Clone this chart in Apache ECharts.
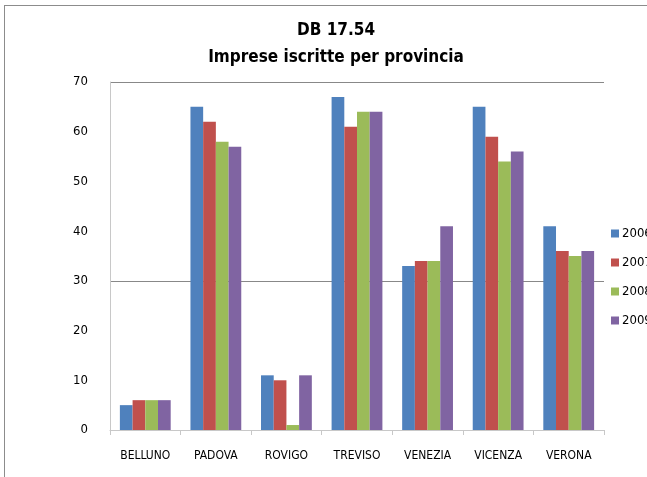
<!DOCTYPE html>
<html>
<head>
<meta charset="utf-8">
<script src="https://cdn.jsdelivr.net/npm/echarts@6/dist/echarts.min.js"></script>
<style>
  html, body { margin: 0; padding: 0; background: #fff; overflow: hidden; }
  #frame { position: absolute; left: 4px; top: 5px; width: 700px; height: 500px; border-left: 1px solid #8c8c8c; border-top: 1px solid #8c8c8c; }
  #chart { position: absolute; left: 0; top: 0; width: 647px; height: 477px; }
</style>
</head>
<body>
<div id="frame"></div>
<div id="chart"></div>
<script>
// dati
const province = ['BELLUNO', 'PADOVA', 'ROVIGO', 'TREVISO', 'VENEZIA', 'VICENZA', 'VERONA']
const anni = ['2006', '2007', '2008', '2009']
const v2006 = [5, 65, 11, 67, 33, 65, 41]
const v2007 = [6, 62, 10, 61, 34, 59, 36]
const v2008 = [6, 58, 1, 64, 34, 54, 35]
const v2009 = [6, 57, 11, 64, 41, 56, 36]
const yTicks = [0, 10, 20, 30, 40, 50, 60, 70]

const colori = ['#4F81BD', '#C0504D', '#9BBB59', '#8064A2']
const font = '"DejaVu Sans Condensed", "Liberation Sans Narrow", sans-serif'

let chart = echarts.init(document.getElementById('chart'))
let valori = [v2006, v2007, v2008, v2009]
let series = []
for (let i = 0; i < anni.length; i++) {
  series.push({
    name: anni[i],
    type: 'bar',
    data: valori[i],
    barGap: '0%',
    barCategoryGap: '28%',
    itemStyle: { color: colori[i] }
  })
}

chart.setOption({
  animation: false,
  title: {
    text: 'DB 17.54\nImprese iscritte per provincia',
    left: 331,
    textAlign: 'center',
    top: 12,
    textStyle: {
      fontFamily: font,
      fontSize: 17,
      fontWeight: 'bold',
      color: '#000',
      lineHeight: 27
    }
  },
  legend: {
    orient: 'vertical',
    left: 606,
    top: 222,
    itemGap: 16,
    itemWidth: 8,
    itemHeight: 8,
    icon: 'rect',
    textStyle: { fontFamily: font, fontSize: 13, color: '#000', padding: [0, 0, 0, -2] },
    data: anni
  },
  grid: {
    left: 110,
    right: 43,
    top: 82,
    bottom: 47
  },
  xAxis: {
    type: 'category',
    data: province,
    axisLine: { lineStyle: { color: '#c8c8c8' } },
    axisTick: { show: true, length: 5, lineStyle: { color: '#c8c8c8' } },
    axisLabel: { interval: 0, fontFamily: font, fontSize: 12, color: '#000', margin: 20 }
  },
  yAxis: {
    type: 'value',
    min: yTicks[0],
    max: yTicks[yTicks.length - 1],
    interval: 10,
    axisLine: { show: true, lineStyle: { color: '#c8c8c8' } },
    axisTick: { show: false },
    axisLabel: { fontFamily: font, fontSize: 13, color: '#000', margin: 22 },
    splitLine: {
      show: true,
      lineStyle: {
        color: ['transparent', 'transparent', 'transparent', '#888', 'transparent', 'transparent', 'transparent', '#888']
      }
    }
  },
  series: series
})
</script>
</body>
</html>
